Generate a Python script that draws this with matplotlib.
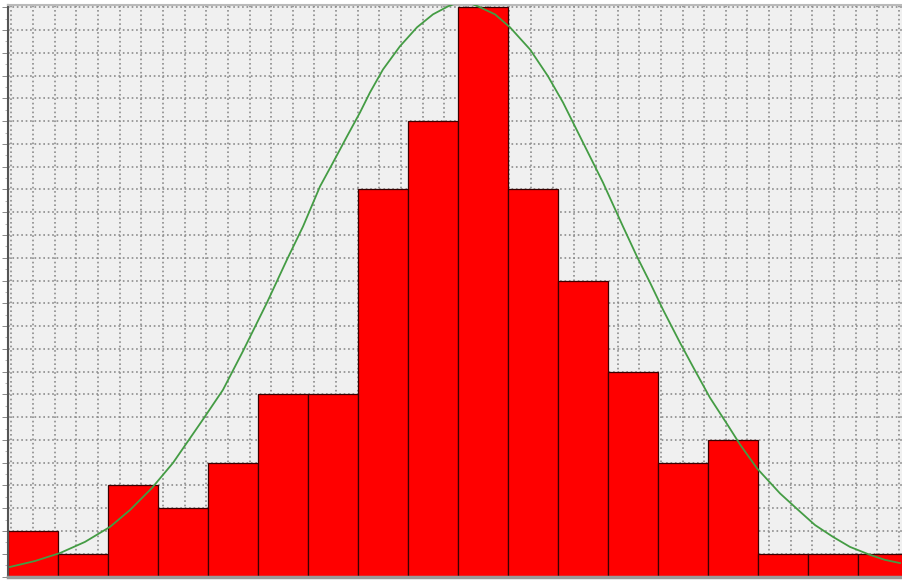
import matplotlib
matplotlib.use('Agg')
import matplotlib.pyplot as plt
from matplotlib.ticker import MultipleLocator

# histogram counts (bins of width 1, starting at 0)
counts = [2, 1, 4, 3, 5, 8, 8, 17, 20, 25, 17, 13, 9, 5, 6, 1, 1, 1]
bin_left = list(range(len(counts)))

# fitted curve, points
curve_x = [0.04, 0.54, 1.04, 1.54, 2.04, 2.44, 2.88, 3.3, 3.9, 4.3, 4.7,
           5.18, 5.58, 5.9, 6.24, 6.5, 6.78, 7.04, 7.24, 7.5, 7.84, 8.18,
           8.5, 8.8, 9.1, 9.4, 9.74, 10.04, 10.44, 10.8, 11.1, 11.5, 11.9,
           12.3, 12.58, 12.84, 13.1, 13.44, 13.7, 14.04, 14.38, 14.64, 14.98,
           15.44, 15.84, 16.14, 16.5, 16.84, 17.24, 17.54, 17.84]
curve_y = [0.42, 0.68, 1.03, 1.52, 2.18, 2.92, 3.89, 4.99, 6.9, 8.2, 9.9,
           12.03, 13.92, 15.37, 17.13, 18.18, 19.33, 20.38, 21.26, 22.27, 23.29, 24.12,
           24.69, 25.04, 25.3, 25.04, 24.69, 24.12, 23.15, 21.97, 20.82, 19.06, 17.3,
           15.37, 14.05, 12.91, 11.72, 10.27, 9.21, 7.85, 6.7, 5.8, 4.75,
           3.65, 2.85, 2.26, 1.74, 1.3, 0.95, 0.73, 0.59]

W, H = 902, 580
fig = plt.figure(figsize=(W / 100, H / 100), dpi=100)
ax = fig.add_axes([8 / W, 3.5 / H, 894 / W, 571.5 / H])
ax.set_facecolor('#f0f0f0')

ax.bar(bin_left, counts, width=1.0, align='edge', color='#ff0000',
       edgecolor='#3a0000', linewidth=0.9, zorder=2)
ax.plot(curve_x, curve_y, color='#449c44', linewidth=1.3, zorder=3)

ax.set_xlim(0, 17.88)
ax.set_ylim(0, 25.1)

ax.xaxis.set_major_locator(MultipleLocator(0.433, offset=0.5))
ax.yaxis.set_major_locator(MultipleLocator(1))
ax.yaxis.set_minor_locator(MultipleLocator(0.5))
ax.grid(True, which='major', color='#8c8c8c', linestyle=':', linewidth=1.2, zorder=1)
ax.set_axisbelow(True)

ax.tick_params(axis='x', which='both', bottom=False, labelbottom=False)
ax.tick_params(axis='y', which='major', length=4, width=0.6, color='#777777', labelleft=False)
ax.tick_params(axis='y', which='minor', length=2, width=0.5, color='#999999')

ax.spines['left'].set_color('#555555')
ax.spines['left'].set_linewidth(1.5)
ax.spines['bottom'].set_color('#999999')
ax.spines['bottom'].set_linewidth(2.5)
ax.spines['top'].set_color('#bbbbbb')
ax.spines['top'].set_linewidth(1.5)
ax.spines['right'].set_visible(False)

fig.savefig('out.png', dpi=100)
